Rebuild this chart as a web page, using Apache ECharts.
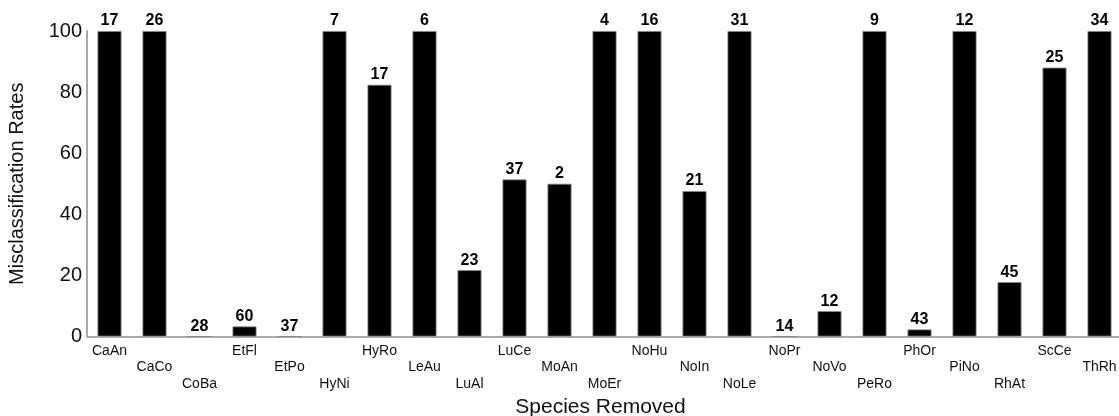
<!DOCTYPE html>
<html><head><meta charset="utf-8">
<script src="https://cdn.jsdelivr.net/npm/echarts@6/dist/echarts.min.js"></script>
<style>html,body{margin:0;padding:0;background:#fff}#c{width:1119px;height:416px}</style>
</head><body><div id="c"></div>
<script>
const categories = ['CaAn','CaCo','CoBa','EtFl','EtPo','HyNi','HyRo','LeAu','LuAl','LuCe','MoAn','MoEr','NoHu','NoIn','NoLe','NoPr','NoVo','PeRo','PhOr','PiNo','RhAt','ScCe','ThRh'];
const rates = [100,100,0,3.3,0,100,82.4,100,21.7,51.4,50,100,100,47.6,100,0,8.3,100,2.3,100,17.8,88,100];
const counts = [17,26,28,60,37,7,17,6,23,37,2,4,16,21,31,14,12,9,43,12,45,25,34];
const yTicks = [0,20,40,60,80,100];

const chart = echarts.init(document.getElementById('c'));
chart.setOption({
  animation: false,
  backgroundColor: '#fff',
  grid: {left: 87, right: -3, top: 31, bottom: 79.5, containLabel: false, outerBoundsMode: 'none'},
  xAxis: {
    type: 'category', data: categories,
    axisLine: {show: true, lineStyle: {color: '#aaa', width: 2}},
    axisTick: {show: false},
    axisLabel: {
      interval: 0, margin: 6, color: '#111', fontFamily: 'Liberation Sans, Arial', fontSize: 14, lineHeight: 16.5,
      formatter: (v, i) => '\n'.repeat(i % 3) + v
    },
    name: 'Species Removed', nameLocation: 'middle', nameGap: 58,
    nameTextStyle: {fontFamily: 'Liberation Sans, Arial', fontSize: 21, color: '#111', padding: [0, 8, 0, 0]}
  },
  yAxis: {
    type: 'value', min: yTicks[0], max: yTicks[yTicks.length-1], interval: 20,
    axisLine: {show: true, lineStyle: {color: '#aaa', width: 2}},
    axisTick: {show: false},
    splitLine: {show: false},
    axisLabel: {color: '#111', fontFamily: 'Liberation Sans, Arial', fontSize: 20, margin: 5},
    name: 'Misclassification Rates', nameLocation: 'middle', nameGap: 60,
    nameTextStyle: {fontFamily: 'Liberation Sans, Arial', fontSize: 20, color: '#111'}
  },
  series: [{
    type: 'bar', data: rates, barWidth: 24,
    itemStyle: {color: '#000', borderColor: '#888', borderWidth: 0.8},
    label: {
      show: true, position: 'top', distance: 2,
      fontFamily: 'Liberation Sans, Arial', fontWeight: 'bold', fontSize: 16, color: '#000',
      formatter: p => String(counts[p.dataIndex])
    }
  }]
});
</script></body></html>
